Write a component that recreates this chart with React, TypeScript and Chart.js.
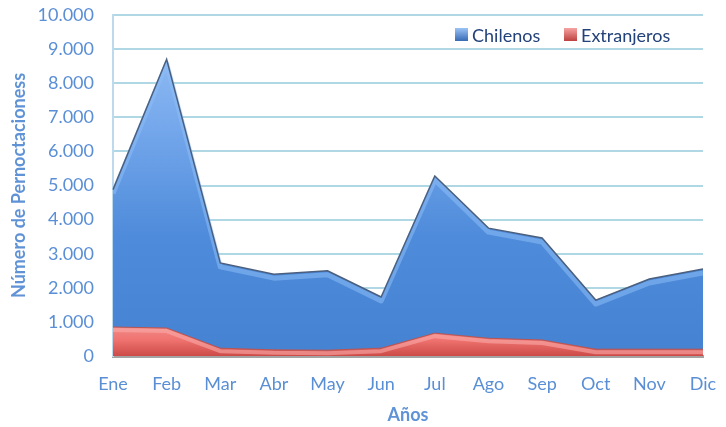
import React, { useEffect, useRef } from "react";
import { Chart, registerables } from "chart.js";

Chart.register(...registerables);

const months = ["Ene", "Feb", "Mar", "Abr", "May", "Jun", "Jul", "Ago", "Sep", "Oct", "Nov", "Dic"];
const chilenos = [4880, 8700, 2730, 2400, 2500, 1730, 5280, 3750, 3460, 1640, 2260, 2550];
const extranjeros = [850, 820, 230, 180, 170, 230, 670, 520, 470, 200, 200, 200];
const yTicksMax = 10000;
const yStep = 1000;
const seriesNames = ["Chilenos", "Extranjeros"];
const xTitle = "Años";
const yTitle = "Número de Pernoctacioness";

const FONT = "Lato, 'Open Sans', sans-serif";
const TICK_COLOR = "#5a8fd6";
const TITLE_COLOR = "#5f93d6";
const LEGEND_COLOR = "#23427a";

const fmt = (v: number) => String(v).replace(/\B(?=(\d{3})+(?!\d))/g, ".");

function blueFill(ctx: any) {
  const area = ctx.chart.chartArea;
  if (!area) return "#4f8ad8";
  const g = ctx.chart.ctx.createLinearGradient(0, area.top, 0, area.bottom);
  g.addColorStop(0, "#9cc3f5");
  g.addColorStop(0.3, "#78aaed");
  g.addColorStop(0.65, "#4e8bda");
  g.addColorStop(1, "#4682d2");
  return g;
}

function redFill(ctx: any) {
  const area = ctx.chart.chartArea;
  if (!area) return "#e66";
  const g = ctx.chart.ctx.createLinearGradient(0, area.bottom - 40, 0, area.bottom);
  g.addColorStop(0, "#f59a98");
  g.addColorStop(0.6, "#ef7370");
  g.addColorStop(1, "#cc4b48");
  return g;
}

// 3D bevel-like highlight just under the top edge of each area
const bevelPlugin = {
  id: "bevel",
  beforeDatasetDraw(chart: any, args: any) {
    const meta = args.meta;
    const pts = meta.data;
    if (!pts || !pts.length) return;
    const { ctx, chartArea } = chart;
    const isBlue = args.index === 0;
    ctx.save();
    ctx.beginPath();
    ctx.rect(chartArea.left, chartArea.top, chartArea.right - chartArea.left, chartArea.bottom - chartArea.top);
    ctx.clip();
    ctx.beginPath();
    pts.forEach((p: any, i: number) => {
      const y = p.y + (isBlue ? 4 : 3);
      if (i === 0) ctx.moveTo(p.x, y);
      else ctx.lineTo(p.x, y);
    });
    ctx.strokeStyle = isBlue ? "rgba(140,190,248,0.55)" : "rgba(250,170,168,0.6)";
    ctx.lineWidth = isBlue ? 5 : 4;
    ctx.lineJoin = "round";
    ctx.stroke();
    ctx.restore();
  },
};

const legendPlugin = {
  id: "insideLegend",
  afterDraw(chart: any) {
    const { ctx } = chart;
    const items = [
      { text: seriesNames[0], x: 455, c1: "#9cc3f5", c2: "#2f64b0" },
      { text: seriesNames[1], x: 564, c1: "#f6a3a1", c2: "#b83a37" },
    ];
    ctx.save();
    ctx.font = `18px ${FONT}`;
    ctx.textBaseline = "middle";
    ctx.textAlign = "left";
    const y = 35;
    items.forEach((it) => {
      const g = ctx.createLinearGradient(0, y - 7, 0, y + 7);
      g.addColorStop(0, it.c1);
      g.addColorStop(1, it.c2);
      ctx.fillStyle = g;
      ctx.fillRect(it.x, y - 7, 13, 13);
      ctx.fillStyle = LEGEND_COLOR;
      ctx.fillText(it.text, it.x + 17, y + 1);
    });
    ctx.restore();
  },
};

export default function App() {
  const ref = useRef<HTMLCanvasElement>(null);
  useEffect(() => {
    if (!ref.current) return;
    const chart = new Chart(ref.current, {
      type: "line",
      data: {
        labels: months,
        datasets: [
          {
            label: seriesNames[0],
            data: chilenos,
            fill: "origin",
            backgroundColor: blueFill,
            borderColor: "#4b5f7e",
            borderWidth: 1.5,
            pointRadius: 0,
            tension: 0,
            order: 2,
          },
          {
            label: seriesNames[1],
            data: extranjeros,
            fill: "origin",
            backgroundColor: redFill,
            borderColor: "#b85553",
            borderWidth: 1,
            pointRadius: 0,
            tension: 0,
            order: 1,
          },
        ],
      },
      options: {
        animation: false,
        responsive: true,
        maintainAspectRatio: false,
        layout: { padding: { left: 0, right: 23, top: 15, bottom: 0 } },
        plugins: {
          legend: { display: false },
          tooltip: { enabled: false },
        },
        scales: {
          x: {
            type: "category",
            offset: false,
            grid: { display: false, drawTicks: false },
            border: { display: true, color: "#a3a3a3", width: 3 },
            ticks: {
              color: TICK_COLOR,
              font: { family: FONT, size: 18 },
              padding: 17,
              maxRotation: 0,
              autoSkip: false,
            },
            title: {
              display: true,
              text: xTitle,
              color: TITLE_COLOR,
              font: { family: FONT, size: 18, weight: "bold" },
              padding: { top: 0, bottom: 1 },
            },
            afterFit: (s: any) => {
              s.height = 427 - 356;
              s.paddingLeft = 0;
              s.paddingRight = 0;
            },
          },
          y: {
            min: 0,
            max: yTicksMax,
            grid: { color: "#afd8e4", lineWidth: 2, drawTicks: false },
            border: { display: true, color: "#bcd9ee", width: 2 },
            ticks: {
              stepSize: yStep,
              color: TICK_COLOR,
              font: { family: FONT, size: 18 },
              padding: 19,
              callback: (v: any) => fmt(Number(v)),
            },
            title: {
              display: true,
              text: yTitle,
              color: TITLE_COLOR,
              font: { family: FONT, size: 18, weight: "bold" },
              padding: { top: 8, bottom: 0 },
            },
            afterFit: (s: any) => {
              s.width = 113;
              s.paddingTop = 0;
              s.paddingBottom = 0;
            },
          },
        },
      },
      plugins: [bevelPlugin, legendPlugin],
    });
    return () => chart.destroy();
  }, []);
  return (
    <div style={{ position: "fixed", left: 0, top: 0, width: 726, height: 427, background: "#fff" }}>
      <canvas ref={ref} />
    </div>
  );
}
